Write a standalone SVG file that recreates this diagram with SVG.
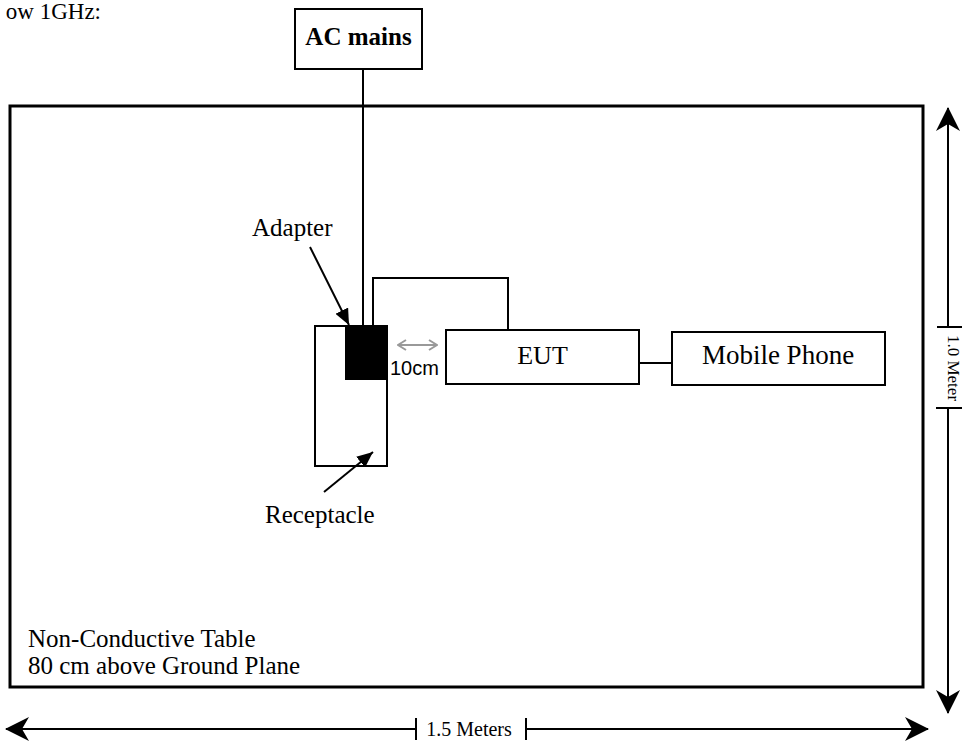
<svg xmlns="http://www.w3.org/2000/svg" width="964" height="745" viewBox="0 0 964 745">
<style>
.t{font-family:"Liberation Serif","Times New Roman",serif;fill:#000}
.box{fill:#fff;stroke:#000;stroke-width:2}
.ln{fill:none;stroke:#000;stroke-width:2}
.dim{fill:none;stroke:#000;stroke-width:2}
</style>
<defs>
<marker id="dimArrow" viewBox="0 0 24 24" markerUnits="userSpaceOnUse" markerWidth="24" markerHeight="24" refX="23" refY="12" orient="auto-start-reverse">
<path d="M0,0 L24,12 L0,24 L7,12 z" fill="#000"/>
</marker>
<marker id="fillArrow" viewBox="0 0 16 14" markerUnits="userSpaceOnUse" markerWidth="16" markerHeight="14" refX="16" refY="7" orient="auto">
<path d="M0,0 L16,7 L0,14 z" fill="#000"/>
</marker>
<marker id="grayArrow" viewBox="0 0 10 12" markerUnits="userSpaceOnUse" markerWidth="10" markerHeight="12" refX="9" refY="6" orient="auto-start-reverse">
<path d="M1,1 L9,6 L1,11" fill="none" stroke="#999" stroke-width="2"/>
</marker>
</defs>
<rect width="964" height="745" fill="#fff"/>
<text class="t" x="101" y="19" font-size="23" text-anchor="end">ow 1GHz:</text>
<g id="table">
<rect x="10" y="106" width="913" height="581" fill="none" stroke="#000" stroke-width="3"/>
<text class="t" x="28" y="647" font-size="25">Non-Conductive Table</text>
<text class="t" x="28" y="674" font-size="25">80 cm above Ground Plane</text>
</g>
<g id="connectors">
<path class="ln" d="M363,69 V326"/>
<path class="ln" d="M373,326 V278 H508 V330"/>
<path class="ln" d="M639,363 H672"/>
</g>
<g id="ac-mains">
<rect class="box" x="295" y="9" width="127" height="60"/>
<text class="t" x="358.5" y="45" font-size="25" font-weight="bold" text-anchor="middle">AC mains</text>
</g>
<g id="receptacle">
<rect class="box" x="315" y="326" width="72" height="140"/>
</g>
<g id="adapter">
<rect x="346" y="326" width="41" height="53" fill="#000" stroke="#000" stroke-width="2"/>
</g>
<g id="eut">
<rect class="box" x="446" y="330" width="193" height="54"/>
<text class="t" x="542.5" y="364" font-size="26" text-anchor="middle">EUT</text>
</g>
<g id="mobile-phone">
<rect class="box" x="672" y="332" width="213" height="53"/>
<text class="t" x="778" y="364" font-size="27" text-anchor="middle">Mobile Phone</text>
</g>
<g id="labels">
<text class="t" x="252" y="236" font-size="25">Adapter</text>
<path class="ln" d="M310,247 L349,325" marker-end="url(#fillArrow)"/>
<text class="t" x="265" y="523" font-size="25">Receptacle</text>
<path class="ln" d="M324,492 L373,452" marker-end="url(#fillArrow)"/>
<path d="M398,345 H437" fill="none" stroke="#999" stroke-width="2" marker-start="url(#grayArrow)" marker-end="url(#grayArrow)"/>
<text x="390" y="375" font-family="'Liberation Sans',Arial,sans-serif" font-size="20" fill="#000">10cm</text>
</g>
<g id="dimensions">
<path class="dim" d="M948,327 V108" marker-end="url(#dimArrow)"/>
<path class="dim" d="M937,327 H962"/>
<path class="dim" d="M948,408 V713" marker-end="url(#dimArrow)"/>
<path class="dim" d="M936,408 H962"/>
<text class="t" font-size="17" text-anchor="middle" transform="translate(948,368) rotate(90)">1.0 Meter</text>
<path class="dim" d="M416,729 H6" marker-end="url(#dimArrow)"/>
<path class="dim" d="M416,718 V740"/>
<path class="dim" d="M526,729 H928" marker-end="url(#dimArrow)"/>
<path class="dim" d="M526,718 V740"/>
<text class="t" x="469" y="736" font-size="20" text-anchor="middle">1.5 Meters</text>
</g>
</svg>
